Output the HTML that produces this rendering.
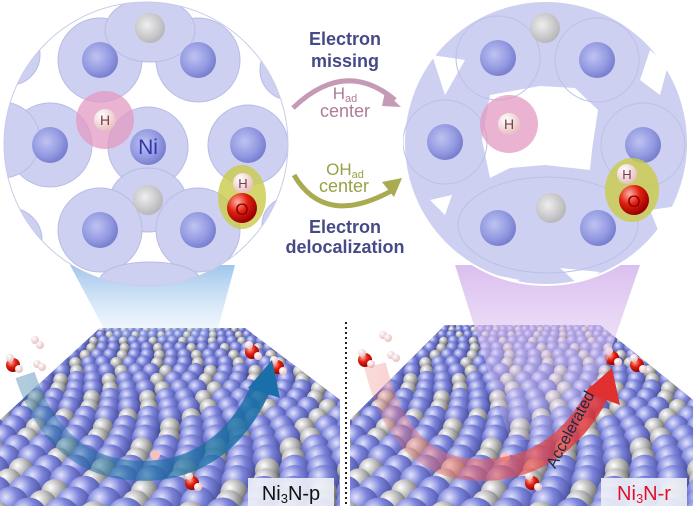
<!DOCTYPE html>
<html><head><meta charset="utf-8"><style>
html,body{margin:0;background:#fff;width:693px;height:506px;overflow:hidden}
svg{display:block}
text{font-family:"Liberation Sans",sans-serif}
</style></head><body>
<svg id="s" width="693" height="506" viewBox="0 0 693 506" xmlns="http://www.w3.org/2000/svg">
<defs>
<radialGradient id="ni" cx="35%" cy="30%" r="70%"><stop offset="0" stop-color="#e2e4fc"/><stop offset="0.45" stop-color="#7c84da"/><stop offset="1" stop-color="#444a9a"/></radialGradient>
<radialGradient id="nic" cx="40%" cy="40%" r="60%"><stop offset="0" stop-color="#bfc3f2"/><stop offset="0.7" stop-color="#9198e0"/><stop offset="1" stop-color="#7a80cf"/></radialGradient>
<radialGradient id="n" cx="35%" cy="30%" r="70%"><stop offset="0" stop-color="#ffffff"/><stop offset="0.5" stop-color="#b8b8b8"/><stop offset="1" stop-color="#666"/></radialGradient>
<radialGradient id="nc" cx="40%" cy="40%" r="60%"><stop offset="0" stop-color="#eeeeee"/><stop offset="1" stop-color="#b8b8bc"/></radialGradient>
<radialGradient id="o" cx="35%" cy="30%" r="70%"><stop offset="0" stop-color="#ffb0a0"/><stop offset="0.5" stop-color="#e02010"/><stop offset="1" stop-color="#900"/></radialGradient>
<radialGradient id="hh" cx="35%" cy="30%" r="70%"><stop offset="0" stop-color="#fff"/><stop offset="1" stop-color="#e8c0c0"/></radialGradient>
<linearGradient id="coneL" x1="0" y1="0" x2="0" y2="1"><stop offset="0" stop-color="#8fbbe8" stop-opacity="0.85"/><stop offset="1" stop-color="#c8e0f8" stop-opacity="0.15"/></linearGradient>
<linearGradient id="coneR" x1="0" y1="0" x2="0" y2="1"><stop offset="0" stop-color="#d4b4ec" stop-opacity="0.85"/><stop offset="1" stop-color="#ecd8f8" stop-opacity="0.15"/></linearGradient>
<linearGradient id="blueArr" x1="0" x2="1"><stop offset="0" stop-color="#1e6e9a" stop-opacity="0.35"/><stop offset="1" stop-color="#1a6fa8" stop-opacity="0.9"/></linearGradient>
<linearGradient id="redArr" x1="0" x2="1"><stop offset="0" stop-color="#f08080" stop-opacity="0.3"/><stop offset="1" stop-color="#e03030" stop-opacity="0.85"/></linearGradient>
<clipPath id="cl"><circle cx="146" cy="144" r="142"/></clipPath>
<clipPath id="cr"><circle cx="546" cy="143" r="143"/></clipPath>
<clipPath id="pl"><polygon points="0,506 0,420 100,328 245,328 340,400 340,506"/></clipPath>
<clipPath id="pr"><polygon points="350,506 350,420 445,325 600,325 693,400 693,506"/></clipPath>
</defs>
<g id="surfL" clip-path="url(#pl)"></g>
<g id="surfR" clip-path="url(#pr)"></g>
<g id="mols"></g>
<polygon points="70,265 235,265 215,340 110,340" fill="url(#coneL)"/>
<polygon points="455,265 640,265 580,440 510,440" fill="url(#coneR)"/>
<path d="M25,375 Q60,480 160,470 Q230,460 262,385" stroke="url(#blueArr)" stroke-width="20" fill="none"/>
<polygon points="248,388 272,360 280,398" fill="#1a6fa8"/>
<path d="M375,365 Q400,470 480,470 Q560,470 600,390" stroke="url(#redArr)" stroke-width="22" fill="none"/>
<polygon points="585,392 612,368 620,405" fill="#e03030"/>
<text x="575" y="432" font-size="16" fill="#1c2a40" text-anchor="middle" transform="rotate(-62 575 432)">Accelerated</text>
<line x1="346" y1="322" x2="346" y2="506" stroke="#222" stroke-width="2" stroke-dasharray="2,3"/>

<g clip-path="url(#cl)">
<rect x="0" y="0" width="300" height="300" fill="#fff"/>
<g fill="#cdd0f0" stroke="#b8bce6" stroke-width="1">
<circle cx="100" cy="60" r="42"/><circle cx="198" cy="60" r="42"/><ellipse cx="150" cy="30" rx="45" ry="32"/>
<circle cx="50" cy="145" r="42"/><circle cx="2" cy="140" r="38"/><circle cx="10" cy="55" r="30"/>
<circle cx="148" cy="147" r="40"/><ellipse cx="148" cy="200" rx="38" ry="32"/>
<circle cx="100" cy="230" r="42"/><circle cx="198" cy="230" r="42"/><ellipse cx="150" cy="280" rx="50" ry="18"/>
<circle cx="248" cy="145" r="40"/><circle cx="290" cy="70" r="30"/><circle cx="290" cy="225" r="28"/><circle cx="10" cy="240" r="32"/>
</g>
<g fill="url(#nic)">
<circle cx="100" cy="60" r="18"/><circle cx="198" cy="60" r="18"/><circle cx="50" cy="145" r="18"/><circle cx="148" cy="147" r="18"/>
<circle cx="248" cy="145" r="18"/><circle cx="100" cy="230" r="18"/><circle cx="198" cy="230" r="18"/>
</g>
<circle cx="150" cy="28" r="15" fill="url(#nc)"/><circle cx="148" cy="200" r="15" fill="url(#nc)"/>
<circle cx="105" cy="120" r="29" fill="#e39ac2" opacity="0.75"/>
<circle cx="105" cy="120" r="11" fill="url(#hh)"/>
<text x="105" y="125" font-size="14" fill="#7a3a4a" text-anchor="middle">H</text>
<text x="148" y="154" font-size="21" fill="#3038a8" text-anchor="middle">Ni</text>
<ellipse cx="242" cy="197" rx="24" ry="32" fill="#c9cc48" opacity="0.8"/>
<circle cx="242" cy="208" r="15" fill="url(#o)"/>
<circle cx="243" cy="183" r="10" fill="url(#hh)"/>
<text x="243" y="188" font-size="13" fill="#7a3a4a" text-anchor="middle">H</text>
<text x="242" y="215" font-size="17" fill="#8a0000" text-anchor="middle">O</text>
</g>
<circle cx="146" cy="144" r="142" fill="none" stroke="#c8cce8" stroke-width="1"/>

<g clip-path="url(#cr)">
<rect x="400" y="0" width="293" height="290" fill="#fff"/>
<circle cx="546" cy="143" r="141" fill="#cdd0f0"/>
<g fill="#fff">
<polygon points="490,95 540,86 575,88 598,110 592,150 590,170 545,165 510,168 490,178 482,140"/>
<polygon points="432,55 465,60 445,95"/><polygon points="650,50 668,65 660,95 640,80"/>
<polygon points="430,200 452,195 445,215"/><polygon points="650,210 685,205 670,260"/>
<polygon points="470,270 520,280 490,290"/><polygon points="560,268 600,272 580,286"/>
</g>
<g fill="none" stroke="#bcc0e6" stroke-width="1">
<circle cx="498" cy="58" r="42"/><circle cx="597" cy="60" r="42"/><circle cx="445" cy="142" r="42"/>
<circle cx="643" cy="145" r="42"/><ellipse cx="548" cy="225" rx="90" ry="48"/>
</g>
<g fill="url(#nic)">
<circle cx="498" cy="58" r="18"/><circle cx="597" cy="60" r="18"/><circle cx="445" cy="142" r="18"/><circle cx="643" cy="145" r="18"/>
<circle cx="498" cy="228" r="18"/><circle cx="598" cy="228" r="18"/>
</g>
<circle cx="545" cy="28" r="15" fill="url(#nc)"/><circle cx="551" cy="208" r="15" fill="url(#nc)"/>
<circle cx="509" cy="124" r="29" fill="#e39ac2" opacity="0.75"/>
<circle cx="509" cy="124" r="11" fill="url(#hh)"/>
<text x="509" y="129" font-size="14" fill="#7a3a4a" text-anchor="middle">H</text>
<ellipse cx="632" cy="190" rx="27" ry="32" fill="#c9cc48" opacity="0.8"/>
<circle cx="634" cy="200" r="15" fill="url(#o)"/>
<circle cx="627" cy="174" r="10" fill="url(#hh)"/>
<text x="627" y="179" font-size="13" fill="#7a3a4a" text-anchor="middle">H</text>
<text x="634" y="207" font-size="17" fill="#8a0000" text-anchor="middle">O</text>
</g>

<text x="345" y="45" font-size="18" font-weight="bold" fill="#464a86" text-anchor="middle">Electron</text>
<text x="345" y="67" font-size="18" font-weight="bold" fill="#464a86" text-anchor="middle">missing</text>
<path d="M293,108 Q345,58 395,100" stroke="#c49ab4" stroke-width="5" fill="none"/>
<polygon points="385,92 401,107 382,106" fill="#c49ab4"/>
<text x="345" y="99" font-size="17" fill="#ad7c97" text-anchor="middle">H<tspan font-size="11" dy="3">ad</tspan></text>
<text x="345" y="117" font-size="18" fill="#ad7c97" text-anchor="middle">center</text>
<text x="345" y="175" font-size="17" fill="#99a046" text-anchor="middle">OH<tspan font-size="11" dy="3">ad</tspan></text>
<text x="344" y="192" font-size="18" fill="#99a046" text-anchor="middle">center</text>
<path d="M294,175 Q325,228 393,190" stroke="#a8ab50" stroke-width="5" fill="none"/>
<polygon points="382,182 402,178 394,197" fill="#a8ab50"/>
<text x="345" y="233" font-size="18" font-weight="bold" fill="#464a86" text-anchor="middle">Electron</text>
<text x="345" y="253" font-size="18" font-weight="bold" fill="#464a86" text-anchor="middle">delocalization</text>
<rect x="248" y="478" width="86" height="28" fill="#eceef6" opacity="0.92"/>
<text x="291" y="500" font-size="20" fill="#111" text-anchor="middle">Ni<tspan font-size="13" dy="3">3</tspan><tspan dy="-3">N-p</tspan></text>
<rect x="601" y="478" width="86" height="28" fill="#eceef6" opacity="0.92"/>
<text x="644" y="500" font-size="20" fill="#e0102a" text-anchor="middle">Ni<tspan font-size="13" dy="3">3</tspan><tspan dy="-3">N-r</tspan></text>
</svg>
<script>
var NS="http://www.w3.org/2000/svg";
function c(g,x,y,r,f,extra){var e=document.createElementNS(NS,"circle");e.setAttribute("cx",x);e.setAttribute("cy",y);e.setAttribute("r",r);e.setAttribute("fill",f);if(extra)for(var k in extra)e.setAttribute(k,extra[k]);g.appendChild(e);}
function surf(id,x0,x1){var g=document.getElementById(id);
 var bg=document.createElementNS(NS,"rect");bg.setAttribute("x",x0);bg.setAttribute("y",300);bg.setAttribute("width",x1-x0);bg.setAttribute("height",206);bg.setAttribute("fill","#4a4f96");g.appendChild(bg);
 for(var row=0;row<22;row++){var t=row/21;var y=326+Math.pow(t,1.3)*190;var r=3.5+t*15;var sp=r*1.75;var off=(row%2)*sp/2;
  for(var x=x0-20+off;x<x1+20;x+=sp){var isN=((Math.round((x-x0)/sp)+row)%3==0);
   c(g,x,y,isN?r*0.8:r,isN?"url(#n)":"url(#ni)");}}}
surf("surfL",0,340);surf("surfR",350,693);
function mol(g,x,y){c(g,x,y,7,"url(#o)");c(g,x-3,y-7,4,"url(#hh)");c(g,x+6,y+4,4,"url(#hh)");}
var mg=document.getElementById("mols");
mol(mg,13,365);mol(mg,252,352);mol(mg,277,367);mol(mg,365,360);mol(mg,612,358);mol(mg,637,365);mol(mg,192,483);mol(mg,532,483);
c(mg,35,340,4,"url(#hh)");c(mg,40,345,4,"url(#hh)");c(mg,37,364,4,"url(#hh)");c(mg,42,367,4,"url(#hh)");
c(mg,383,335,4,"url(#hh)");c(mg,388,338,4,"url(#hh)");c(mg,391,355,4,"url(#hh)");c(mg,396,358,4,"url(#hh)");
c(mg,155,455,5,"#f4c0c0");c(mg,505,457,5,"#f4c0c0");
</script>
</body></html>
